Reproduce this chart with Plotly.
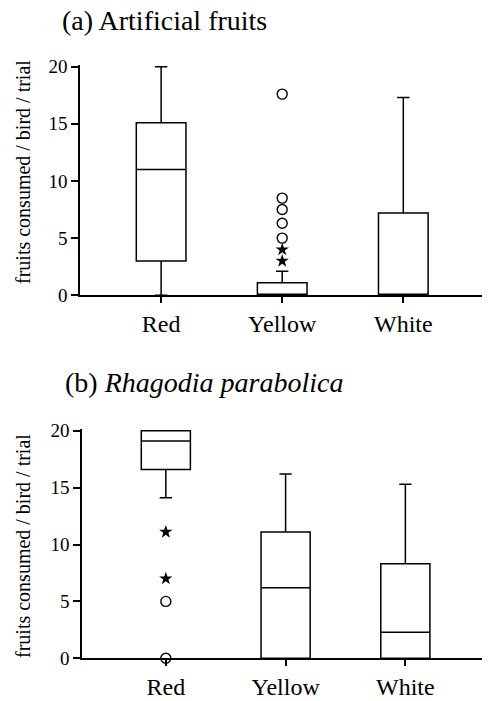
import plotly.graph_objects as go
from plotly.subplots import make_subplots

categories = ["Red", "Yellow", "White"]

# Panel (a) Artificial fruits
a_q1 = [3.0, 0.0, 0.0]
a_median = [11.0, 0.0, 0.0]
a_q3 = [15.1, 1.1, 7.2]
a_lower = [0.0, 0.0, 0.0]
a_upper = [20.0, 2.1, 17.3]
a_circle_cat = ["Yellow", "Yellow", "Yellow", "Yellow", "Yellow"]
a_circle_val = [17.6, 8.5, 7.5, 6.3, 5.0]
a_star_cat = ["Yellow", "Yellow"]
a_star_val = [4.0, 3.0]

# Panel (b) Rhagodia parabolica
b_q1 = [16.6, 0.0, 0.0]
b_median = [19.1, 6.2, 2.3]
b_q3 = [20.0, 11.1, 8.3]
b_lower = [14.1, 0.0, 0.0]
b_upper = [20.0, 16.2, 15.3]
b_circle_cat = ["Red", "Red"]
b_circle_val = [5.0, 0.0]
b_star_cat = ["Red", "Red"]
b_star_val = [11.1, 7.0]

yticks = [0, 5, 10, 15, 20]

FONT = "Liberation Serif"

fig = make_subplots(rows=2, cols=1)

def add_panel(row, q1, med, q3, lo, hi, ccat, cval, scat, sval):
    fig.add_trace(go.Box(
        x=categories, q1=q1, median=med, q3=q3,
        lowerfence=lo, upperfence=hi,
        boxpoints=False, width=0.41, whiskerwidth=0.25,
        line=dict(color="black", width=1.5), fillcolor="white",
        showlegend=False, hoverinfo="skip"), row=row, col=1)
    fig.add_trace(go.Scatter(
        x=ccat, y=cval, mode="markers", cliponaxis=False,
        marker=dict(symbol="circle-open", size=10, color="black",
                    line=dict(width=1.4, color="black")),
        showlegend=False), row=row, col=1)
    fig.add_trace(go.Scatter(
        x=scat, y=sval, mode="markers", cliponaxis=False,
        marker=dict(symbol="star", size=10, color="black"),
        showlegend=False), row=row, col=1)

add_panel(1, a_q1, a_median, a_q3, a_lower, a_upper,
          a_circle_cat, a_circle_val, a_star_cat, a_star_val)
add_panel(2, b_q1, b_median, b_q3, b_lower, b_upper,
          b_circle_cat, b_circle_val, b_star_cat, b_star_val)

xcommon = dict(type="category", categoryorder="array", categoryarray=categories,
               showline=True, linecolor="black", linewidth=1.5,
               ticks="outside", ticklen=6, tickwidth=1.5, tickcolor="black",
               showgrid=False, zeroline=False, automargin=False,
               tickfont=dict(family=FONT, size=24, color="black"))
ycommon = dict(range=[0, 20.15], tickvals=yticks,
               showline=True, linecolor="black", linewidth=1.5,
               ticks="outside", ticklen=7, tickwidth=1.5, tickcolor="black",
               showgrid=False, zeroline=False, automargin=False,
               tickfont=dict(family=FONT, size=19, color="black"))

fig.update_xaxes(**xcommon)
fig.update_yaxes(**ycommon)
fig.update_layout(
    xaxis=dict(domain=[0, 1], range=[-0.67, 2.65]),
    xaxis2=dict(domain=[0.005, 1], range=[-0.70, 2.64]),
    yaxis=dict(domain=[0.5788, 0.9073]),
    yaxis2=dict(domain=[0.0609, 0.388]),
)

fig.add_annotation(text="(a) Artificial fruits", xref="paper", yref="paper",
                   x=(60 - 80) / 402, y=(701 - 20) / 701, xanchor="left", yanchor="middle",
                   showarrow=False, font=dict(family=FONT, size=28, color="black"))
fig.add_annotation(text="(b) <i>Rhagodia parabolica</i>", xref="paper", yref="paper",
                   x=(63 - 80) / 402, y=(701 - 382) / 701, xanchor="left", yanchor="middle",
                   showarrow=False, font=dict(family=FONT, size=28, color="black"))
for yc in [172, 546]:
    fig.add_annotation(text="fruits consumed / bird / trial", xref="paper", yref="paper",
                       x=(23 - 80) / 402, y=(701 - yc) / 701, xanchor="center", yanchor="middle",
                       textangle=-90, showarrow=False,
                       font=dict(family=FONT, size=20, color="black"))

fig.update_layout(width=488, height=701, margin=dict(l=80, r=6, t=0, b=0),
                  paper_bgcolor="white", plot_bgcolor="white", showlegend=False)

fig.write_html("out.html")
